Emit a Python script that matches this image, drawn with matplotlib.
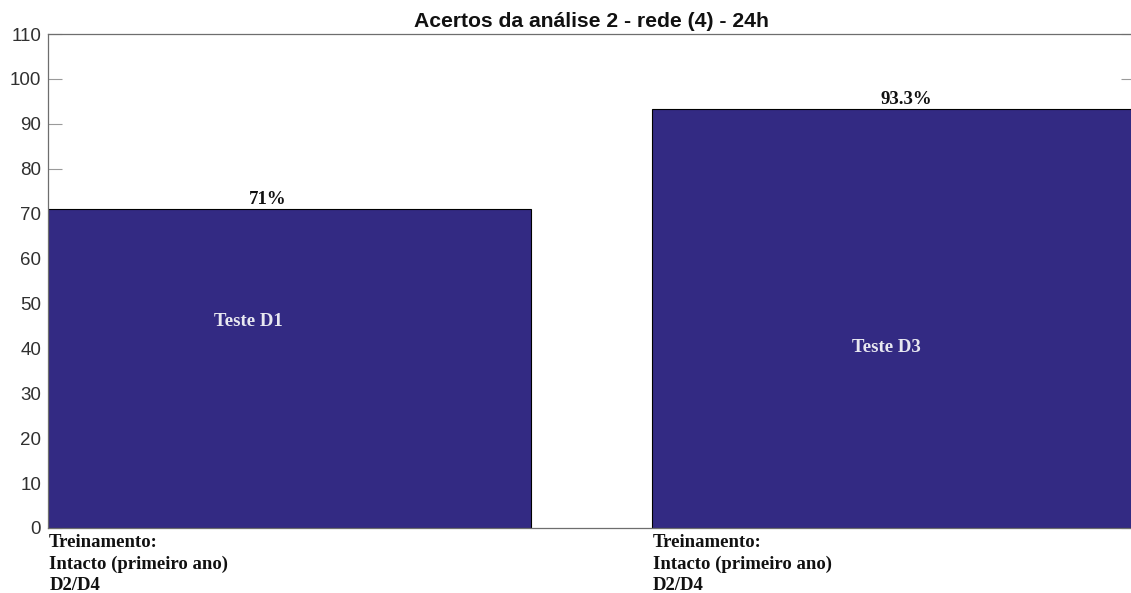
import matplotlib.pyplot as plt

# values
positions = [1, 2]
acertos = [71, 93.3]
value_labels = ['71%', '93.3%']
bar_names = ['Teste D1', 'Teste D3']
train_label = 'Treinamento:\nIntacto (primeiro ano)\nD2/D4'
yticks = list(range(0, 111, 10))

bar_color = '#332a83'
axis_gray = '#6e6e6e'

fig = plt.figure(figsize=(11.31, 5.93), dpi=100)
# axes box runs slightly past the right border, as in the reference
ax = fig.add_axes([48 / 1131, 1 - 528 / 593, (1135 - 48) / 1131, (528 - 34) / 593])

ax.bar(positions, acertos, width=0.8, color=bar_color, edgecolor='black', linewidth=0.8)
ax.set_axisbelow(True)

ax.set_xlim(0.6, 2.4)
ax.set_ylim(0, 110)
ax.set_yticks(yticks)
ax.set_xticks([])
ax.tick_params(axis='y', direction='in', length=10, width=0.8, color='#9a9a9a',
               labelsize=13.5, labelcolor='#303030', right=True, pad=5)
for s in ax.spines.values():
    s.set_color(axis_gray)
    s.set_linewidth(0.9)

serif = 'Liberation Serif'
# values on top of bars
for x, v, lab in zip([0.964, 2.022], acertos, value_labels):
    ax.text(x, v + 0.15, lab, ha='center', va='bottom', fontsize=13.5,
            fontweight='bold', family=serif, color='#111111')

# names inside the bars
for x, y, name in zip([0.931, 1.989], [46, 40.3], bar_names):
    ax.text(x, y, name, ha='center', va='center', fontsize=13.5,
            fontweight='bold', family=serif, color='#e8e8f0')

# training labels under each bar
for x in [0.602, 2.0 - 0.398]:
    ax.text(x, -1.3, train_label, ha='left', va='top', fontsize=13.5,
            fontweight='bold', family=serif, color='#111111', linespacing=1.33)

ax.set_title('Acertos da análise 2 - rede (4) - 24h', fontsize=15.2,
             fontweight='bold', family='Liberation Sans', color='#111111', pad=5)

for t in ax.get_yticklabels():
    t.set_family('Liberation Sans')

plt.savefig('out.png', dpi=100)
plt.close()
